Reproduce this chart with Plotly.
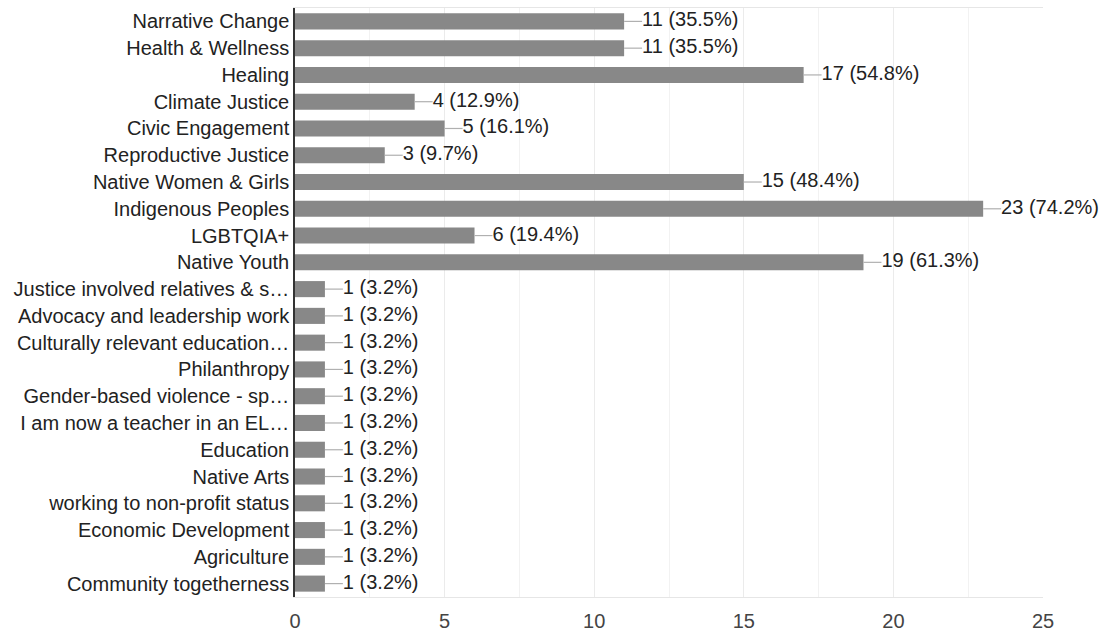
import plotly.graph_objects as go

categories = [
    "Narrative Change", "Health & Wellness", "Healing", "Climate Justice",
    "Civic Engagement", "Reproductive Justice", "Native Women & Girls",
    "Indigenous Peoples", "LGBTQIA+", "Native Youth",
    "Justice involved relatives & s…", "Advocacy and leadership work",
    "Culturally relevant education…", "Philanthropy", "Gender-based violence - sp…",
    "I am now a teacher in an EL…", "Education", "Native Arts",
    "working to non-profit status", "Economic Development", "Agriculture",
    "Community togetherness",
]
counts = [11, 11, 17, 4, 5, 3, 15, 23, 6, 19, 1, 1, 1, 1, 1, 1, 1, 1, 1, 1, 1, 1]
percents = [35.5, 35.5, 54.8, 12.9, 16.1, 9.7, 48.4, 74.2, 19.4, 61.3,
            3.2, 3.2, 3.2, 3.2, 3.2, 3.2, 3.2, 3.2, 3.2, 3.2, 3.2, 3.2]
x_ticks = [0, 5, 10, 15, 20, 25]

labels = [f"{c} ({p}%)" for c, p in zip(counts, percents)]
lead = 0.6

fig = go.Figure()
fig.add_trace(go.Bar(
    x=counts, y=categories, orientation="h",
    marker=dict(color="#888888", line=dict(width=0)),
    hoverinfo="skip",
))

lx, ly = [], []
for c, cat in zip(counts, categories):
    lx += [c, c + lead, None]
    ly += [cat, cat, None]
fig.add_trace(go.Scatter(
    x=lx, y=ly, mode="lines", line=dict(color="#b0b0b0", width=1.2),
    hoverinfo="skip", cliponaxis=False,
))
fig.add_trace(go.Scatter(
    x=[c + lead for c in counts], y=categories, mode="text",
    text=labels, textposition="middle right",
    textfont=dict(family="Liberation Sans, Arial", size=20, color="#222222"),
    hoverinfo="skip", cliponaxis=False,
))

n = len(categories)
fig.update_layout(
    width=1101, height=633,
    margin=dict(l=295, r=58, t=8, b=36),
    paper_bgcolor="white", plot_bgcolor="white",
    showlegend=False, bargap=0.4,
    font=dict(family="Liberation Sans, Arial", size=20, color="#222222"),
    xaxis=dict(
        range=[0, 25], tickvals=x_ticks, automargin=False,
        showgrid=True, gridcolor="#ebebeb", gridwidth=1,
        minor=dict(dtick=2.5, showgrid=True, gridcolor="#f2f2f2", gridwidth=1),
        zeroline=False, showline=True, mirror=True, linecolor="#e6e6e6",
        ticks="outside", ticklen=6, tickcolor="rgba(0,0,0,0)",
        tickfont=dict(size=20, color="#444444"),
    ),
    yaxis=dict(
        range=[n - 0.5, -0.5], automargin=False,
        showgrid=False, zeroline=False, showline=True, linecolor="#333333",
        linewidth=1.5, ticks="", tickfont=dict(size=20, color="#222222"),
    ),
)

fig.write_html("out.html")
